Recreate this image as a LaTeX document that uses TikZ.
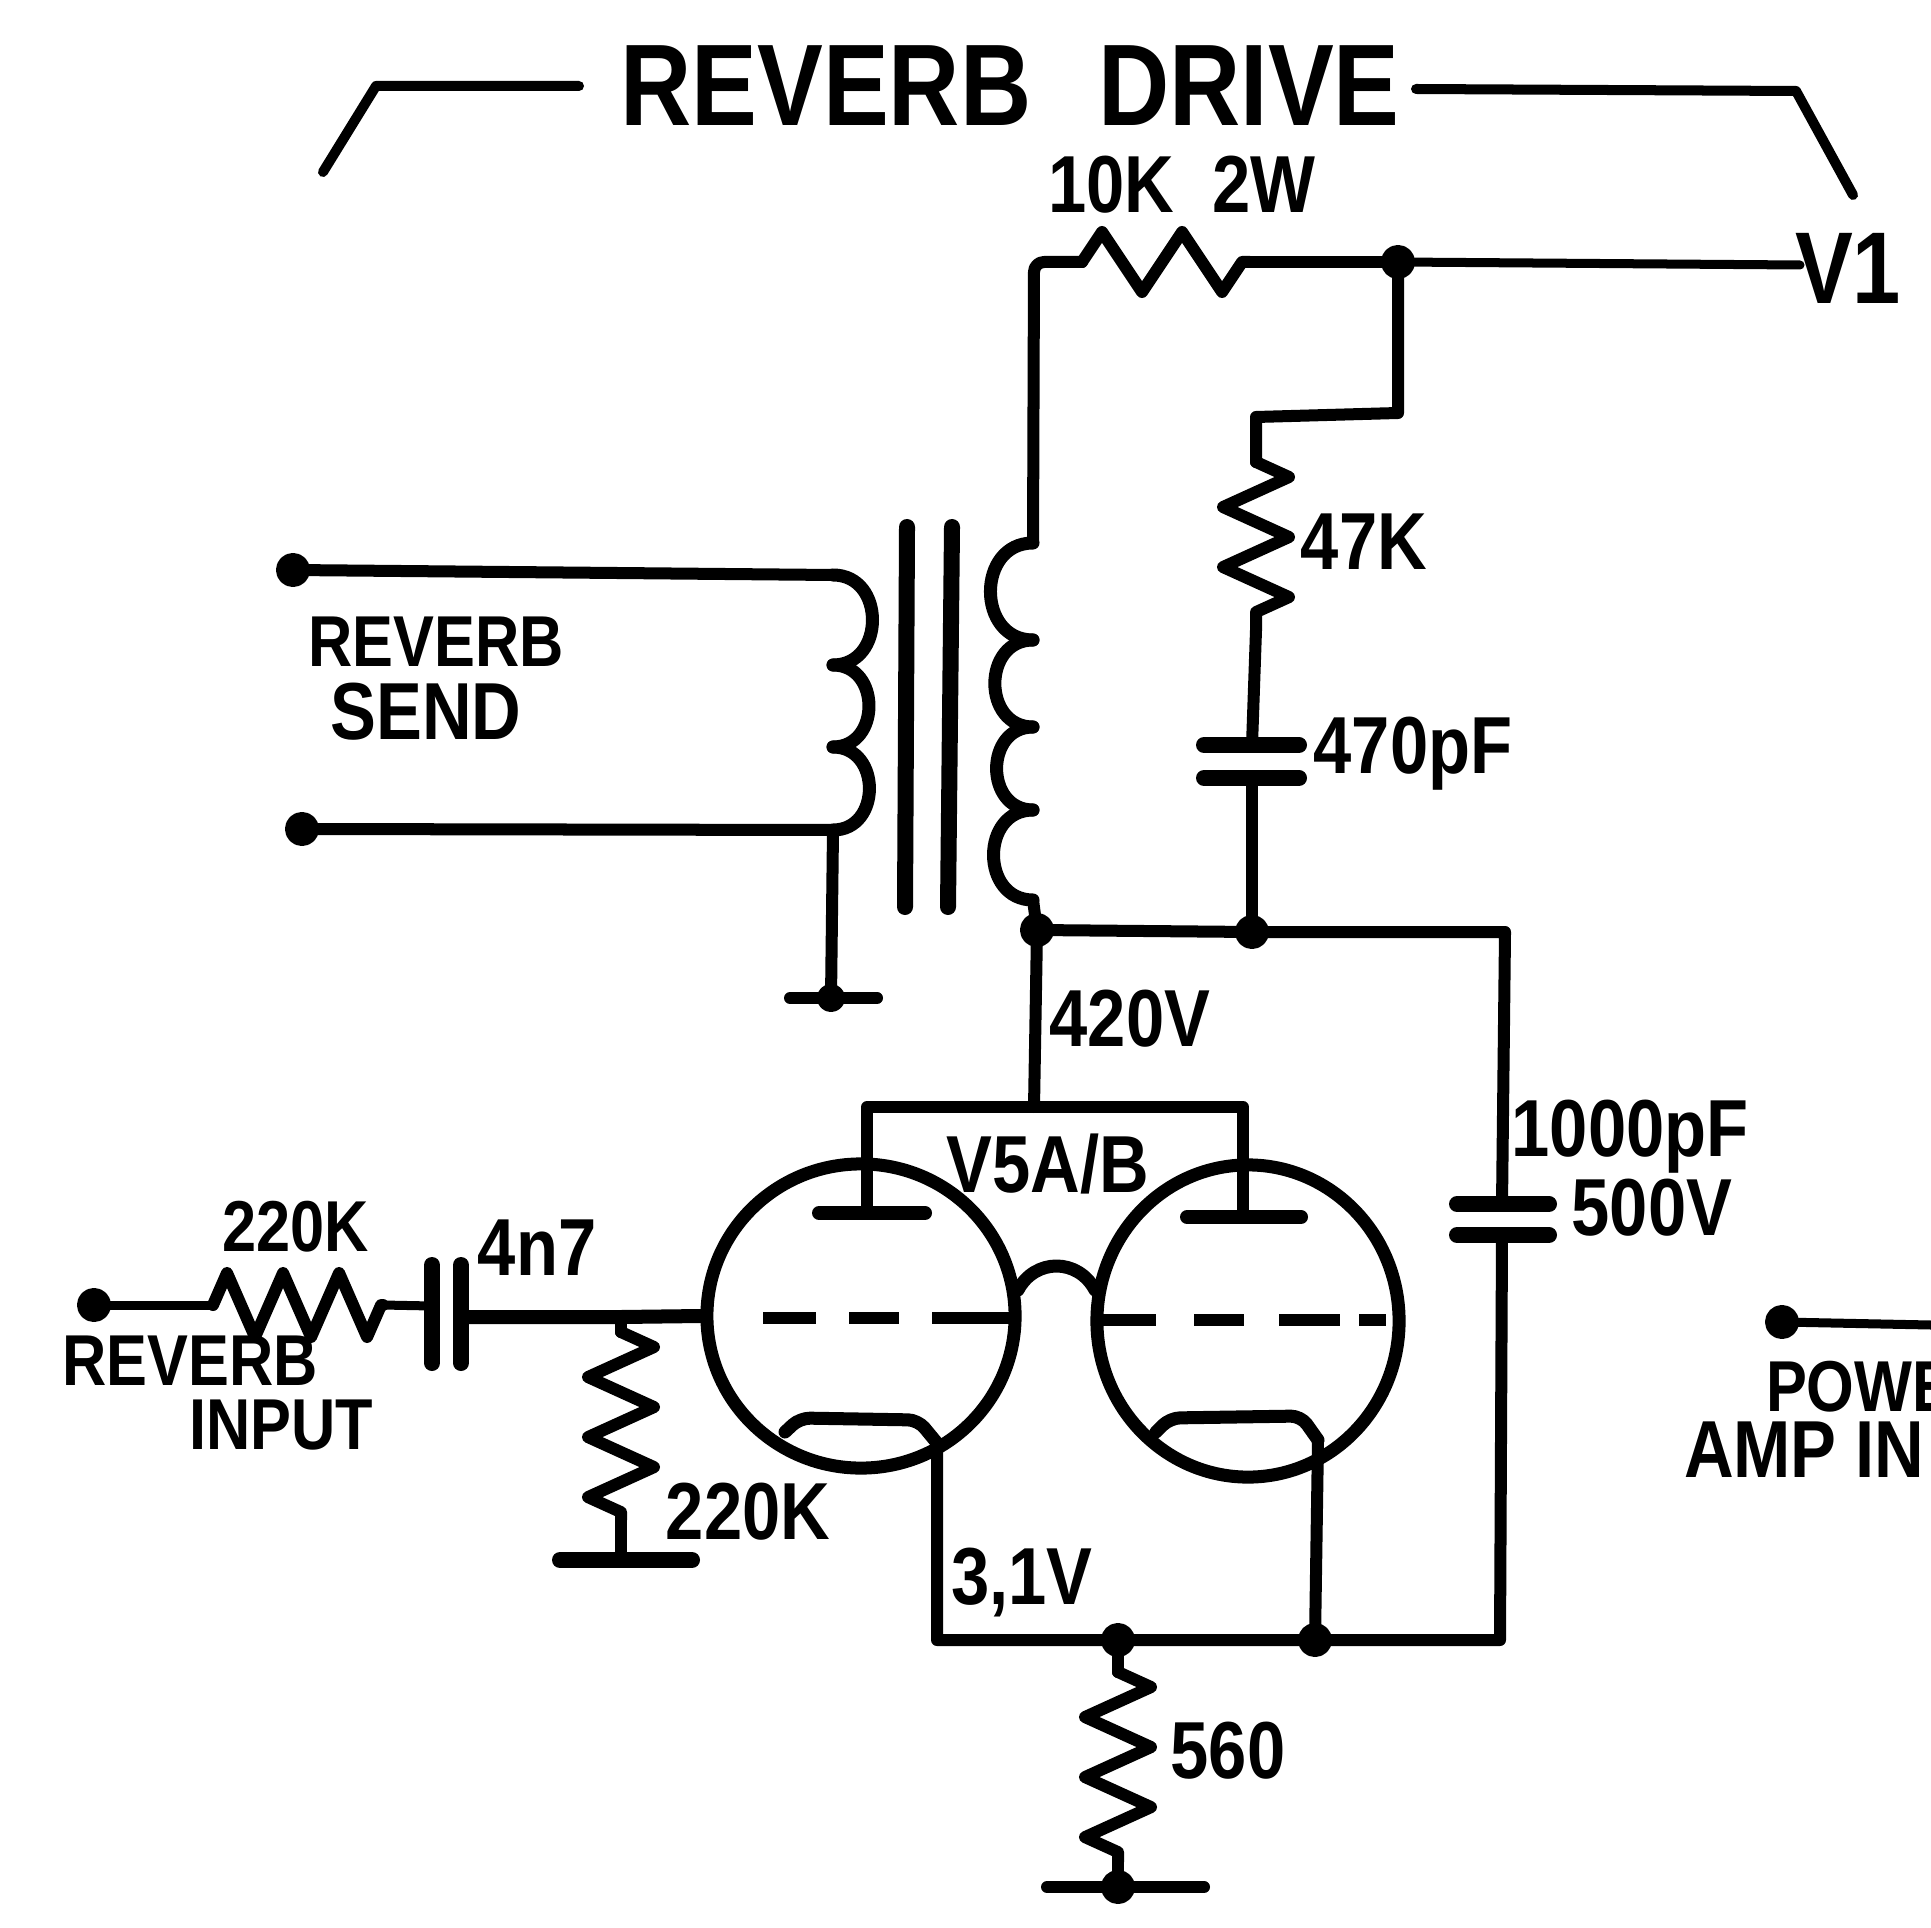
\documentclass[tikz,border=0pt]{standalone}
\usepackage{fontspec}
\setmainfont[FakeStretch=0.85]{Liberation Sans}
\usetikzlibrary{decorations.pathmorphing,shapes.geometric}

\tikzset{
    lbl/.style={inner sep=0pt,font=\fontsize{23}{25}\selectfont\bfseries},
    lblsmall/.style={inner sep=0pt,font=\fontsize{20.5}{22}\selectfont\bfseries},
    title/.style={inner sep=0pt,font=\fontsize{33}{35}\selectfont\bfseries},
    plate/.style={line width=0.16cm},
    tube/.style={draw,ellipse,inner sep=0pt,line width=0.13cm,minimum width=3.08cm,minimum height=3.04cm},
    zigres/.style={decorate,decoration={zigzag,segment length=0.6cm,amplitude=0.33cm}},
    zigtop/.style={decorate,decoration={zigzag,segment length=0.8cm,amplitude=0.3cm}},
}

\begin{document}
\begin{tikzpicture}[x=0.01cm,y=-0.01cm,line cap=round,line join=round,line width=0.12cm]
        \useasboundingbox (0,0) rectangle (1931,1928);

        % the tubes come first, the wires end on them
        \node[tube] (v5a) at (861,1316) {};
        \node[tube,minimum width=3.02cm,minimum height=3.12cm] (v5b) at (1248,1321) {};

        % points of the circuit
        \foreach \n/\x/\y in {
            brLa/323/172, brLb/376/86, brLc/579/86,
            brRa/1416/89, brRb/1796/91, brRc/1853/195,
            topL/1034/262, resTa/1082/262, resTb/1250/262, topJ/1398/262, vOut/1800/265,
            stepR/1398/413, stepL/1256/417, resFa/1256/462, resFb/1256/630,
            capFa/1204/745, capFb/1299/745, capFc/1204/778, capFd/1299/778,
            capFt/1252/745, capFl/1252/778,
            plJ/1252/932, plL/1037/930, plR/1505/932,
            secTop/1033/543, secA/1033/640, secB/1033/727, secC/1033/810, secD/1033/900,
            priTop/833/575, priA/833/665, priB/833/747, priD/833/830,
            sendA/293/570, sendB/302/829, gndT/831/998, gndTa/790/998, gndTb/877/998,
            coreAa/907/527, coreAb/905/907, coreBa/952/527, coreBb/948/907,
            busM/1034/1107, busL/867/1107, busR/1243/1107,
            anLa/819/1213, anLb/925/1213, anLm/867/1213,
            anRa/1187/1217, anRb/1301/1217, anRm/1243/1217,
            gridLa/763/1318, gridLb/1012/1318, gridRa/1102/1320, gridRb/1386/1320,
            brgL/1018/1290, brgR/1095/1290,
            catLk/937/1443, catRk/1318/1440,
            capBt/1502/1204, capBl/1502/1235,
            capBa/1457/1204, capBb/1549/1204, capBc/1457/1235, capBd/1549/1235,
            botL/937/1640, botM/1118/1640, botJ/1315/1640, botR/1500/1640,
            resBa/1118/1672, resBb/1118/1862, gndB/1118/1887, gndBa/1047/1887, gndBb/1204/1887,
            inDot/94/1305, resIa/213/1305, resIb/383/1305,
            capIa/432/1265, capIb/432/1363, capIc/461/1265, capId/461/1363,
            capIl/432/1306, capIr/461/1317, gridJ/621/1317,
            resGa/621/1332, resGb/621/1520, gndG/621/1560, gndGa/560/1560, gndGb/692/1560,
            ampDot/1782/1322, ampEnd/1931/1325}
                \coordinate (\n) at (\x,\y);

        % bracket over the stage
        \draw[line width=0.1cm] (brLa) -- (brLb) -- (brLc);
        \draw[line width=0.1cm] (brRa) -- (brRb) -- (brRc);
        \node[title] (revdrive) at (1010,86) {REVERB\hspace{19pt}DRIVE};

        % supply side
        \draw[rounded corners=0.1cm] (secTop) -- (topL) -- (resTa);
        \draw[zigtop] (resTa) -- (resTb);
        \draw (resTb) -- (topJ);
        \draw[line width=0.09cm] (topJ) -- (vOut);
        \draw (topJ) -- (stepR) -- (stepL) -- (resFa);
        \draw[zigres] (resFa) -- (resFb);
        \draw (resFb) -- (capFt);
        \draw (capFl) -- (plJ);
        \draw[plate] (capFa) -- (capFb);
        \draw[plate] (capFc) -- (capFd);
        \draw (plL) -- (plJ) -- (plR) -- (capBt);
        \draw (capBl) -- (botR) -- (botL) -- (catLk);

        % transformer
        \draw[plate] (coreAa) -- (coreAb);
        \draw[plate] (coreBa) -- (coreBb);
        \foreach \a/\b in {secTop/secA,secA/secB,secB/secC,secC/secD}
                \draw[line width=0.13cm] (\a) to[out=180,in=180,looseness=1.5] (\b);
        \foreach \a/\b in {priTop/priA,priA/priB,priB/priD}
                \draw[line width=0.13cm] (\a) to[out=0,in=0,looseness=1.5] (\b);
        \draw (secD) -- (plL);
        \draw (sendA) -- (priTop);
        \draw (sendB) -- (priD) -- (gndT);
        \draw (gndTa) -- (gndTb);

        % anodes
        \draw (plL) -- (busM);
        \draw (anLm) -- (busL) -- (busR) -- (anRm);
        \draw[line width=0.14cm] (anLa) -- (anLb);
        \draw[line width=0.14cm] (anRa) -- (anRb);

        % grids, cathodes and the bridge between the tubes
        \draw[line width=0.12cm,dash pattern=on 0.53cm off 0.33cm on 0.5cm off 0.33cm on 0.85cm,line cap=butt] (gridLa) -- (gridLb);
        \draw[line width=0.12cm,dash pattern=on 0.54cm off 0.38cm on 0.5cm off 0.35cm on 0.61cm off 0.19cm on 0.3cm,line cap=butt] (gridRa) -- (gridRb);
        \draw[line width=0.13cm] (brgL) .. controls (1035,1258) and (1078,1258) .. (brgR);
        \draw[line width=0.13cm,rounded corners=0.1cm] (785,1432) -- (800,1418) -- (918,1420) -- (catLk);
        \draw[line width=0.13cm,rounded corners=0.1cm] (1156,1432) -- (1170,1418) -- (1301,1416) -- (catRk);
        \draw (catRk) -- (botJ);

        % output coupling capacitor
        \draw[plate] (capBa) -- (capBb);
        \draw[plate] (capBc) -- (capBd);

        % cathode resistor
        \draw (botM) -- (resBa);
        \draw[zigres] (resBa) -- (resBb);
        \draw (resBb) -- (gndB);
        \draw (gndBa) -- (gndBb);

        % input
        \draw[line width=0.09cm] (inDot) -- (resIa);
        \draw[decorate,decoration={zigzag,segment length=0.56cm,amplitude=0.32cm}] (resIa) -- (resIb);
        \draw[line width=0.09cm] (resIb) -- (capIl);
        \draw[plate] (capIa) -- (capIb);
        \draw[plate] (capIc) -- (capId);
        \draw[line width=0.14cm] (capIr) -- (gridJ) -- (v5a.west);
        \draw (gridJ) -- (resGa);
        \draw[zigres] (resGa) -- (resGb);
        \draw (resGb) -- (gndG);
        \draw[plate] (gndGa) -- (gndGb);
        \draw[line width=0.09cm] (ampDot) -- (ampEnd);

        % dots at each point
        \foreach \n in {topJ,plJ,plL,botM,botJ,gndB,sendA,sendB,inDot,ampDot}
                \filldraw[black] (\n) circle(0.11cm);
        \filldraw[black] (gndT) circle(0.08cm);

        % labels
        \foreach \n/\x/\y/\t in {
            lblDrop/1182/185/{10K\ \ 2W}, lblFb/1364/542/47K, lblFc/1413/754/470pF,
            lblPlate/1130/1019/420V, lblTube/1048/1164/{V5A/B},
            lblCb/1630/1137/1000pF, lblCv/1652/1208/500V,
            lblCi/537/1248/4n7, lblRg/748/1512/220K,
            lblKv/1022/1583/{3,1V}, lblRk/1228/1751/560,
            lblSb/426/712/SEND}
                \node[lbl] (\n) at (\x,\y) {\t};
        \foreach \n/\x/\y/\t in {
            lblRi/296/1227/220K, lblSa/436/642/REVERB,
            lblIa/190/1361/REVERB, lblIb/281/1425/INPUT}
                \node[lblsmall] (\n) at (\x,\y) {\t};
        \node[lbl,font=\fontsize{29}{31}\selectfont\bfseries] (lblVone) at (1848,268) {V1};
        \node[lblsmall,anchor=west] (lblPa) at (1760,1387) {POWE};
        \node[lbl,anchor=west] (lblPb) at (1678,1450) {AMP IN};
\end{tikzpicture}
\end{document}
